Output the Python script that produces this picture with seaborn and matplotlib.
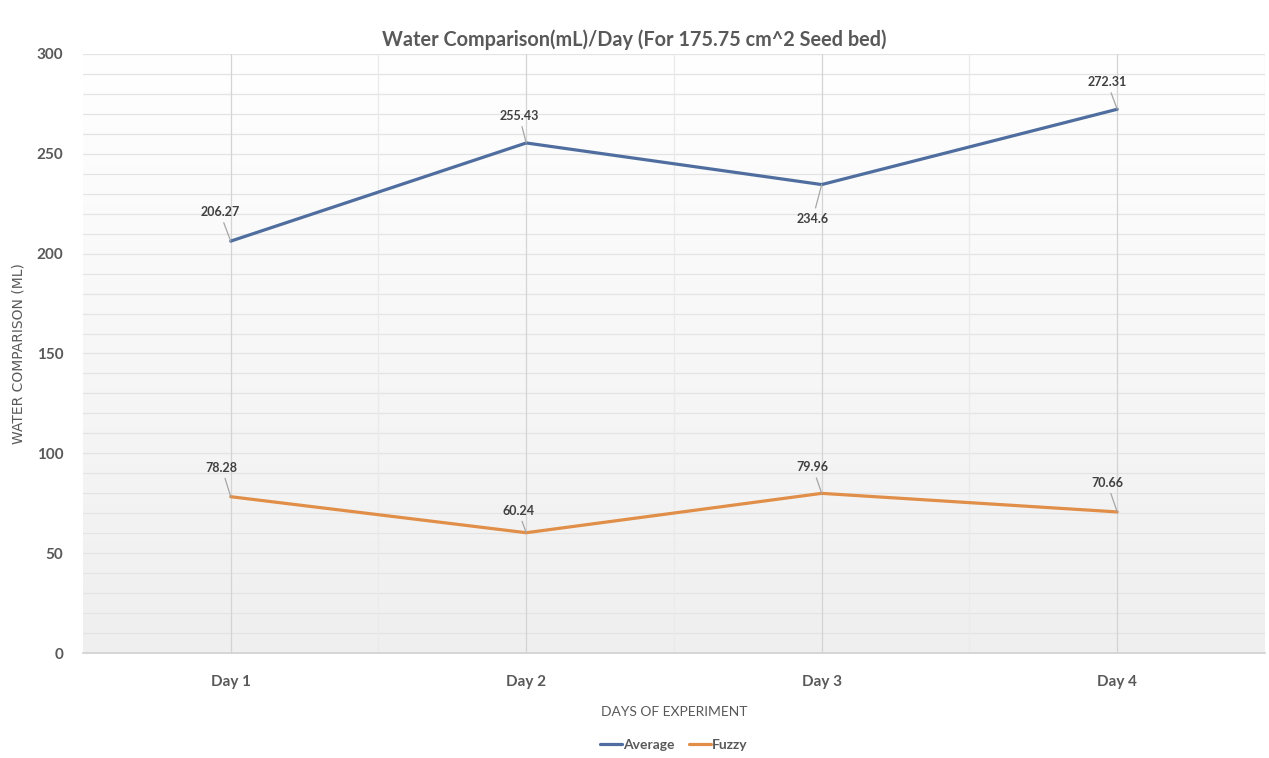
import numpy as np
import pandas as pd
import matplotlib
matplotlib.use("Agg")
import matplotlib.pyplot as plt
import seaborn as sns
from matplotlib.lines import Line2D

days = ["Day 1", "Day 2", "Day 3", "Day 4"]
average = [206.27, 255.43, 234.6, 272.31]
fuzzy = [78.28, 60.24, 79.96, 70.66]
series_names = ["Average", "Fuzzy"]
y_ticks = [0, 50, 100, 150, 200, 250, 300]

title = "Water Comparison(mL)/Day (For 175.75 cm^2 Seed bed)"
xlabel = "DAYS OF EXPERIMENT"
ylabel = "WATER COMPARISON (ML)"

df = pd.DataFrame({
    "Day": days * 2,
    "Value": average + fuzzy,
    "Series": [series_names[0]] * len(days) + [series_names[1]] * len(days),
})

sns.set_theme(style="white")
plt.rcParams['font.family'] = ['Lato', 'DejaVu Sans']

colors = {"Average": "#4F6E9F", "Fuzzy": "#E08E48"}

fig = plt.figure(figsize=(12.69, 7.58), dpi=100)
ax = fig.add_axes([0.0654, 0.1385, 0.9314, 0.7903])

# background gradient (light gray at bottom, white at top)
grad = np.linspace(0, 1, 256).reshape(-1, 1)
cmap = matplotlib.colors.LinearSegmentedColormap.from_list("bg", ["#EFEFEF", "#FFFFFF"])
ax.imshow(grad, extent=[-0.5, 3.5, 0, 300], aspect="auto", cmap=cmap, zorder=0,
          origin="lower")

sns.lineplot(data=df, x="Day", y="Value", hue="Series", palette=colors,
             linewidth=2.3, ax=ax, legend=False, zorder=3, sort=False)

ax.set_xlim(-0.5, 3.5)
ax.set_ylim(0, 300)
ax.set_yticks(y_ticks)
ax.set_xticks(range(len(days)))
ax.set_xticklabels(days)

ax.grid(False)
for yv in np.arange(10, 301, 10):
    ax.axhline(yv, color="#E4E4E4", linewidth=0.9, zorder=1)
for xv in range(len(days)):
    ax.axvline(xv, color="#D4D4D4", linewidth=0.9, zorder=1)
for xv in np.arange(0.5, 3.6, 1):
    ax.axvline(xv, color="#EAEAEA", linewidth=0.9, zorder=1)

for s in ["top", "right", "left"]:
    ax.spines[s].set_visible(False)
ax.spines["bottom"].set_color("#D0D0D0")
ax.spines["bottom"].set_linewidth(1.2)
ax.tick_params(axis="both", which="both", length=0)
ax.tick_params(axis="y", labelsize=11, labelcolor="#595959", pad=14)
ax.tick_params(axis="x", labelsize=11, labelcolor="#595959", pad=16)
for lbl in ax.get_xticklabels() + ax.get_yticklabels():
    lbl.set_fontweight("bold")

ax.set_xlabel(xlabel, fontsize=10, color="#595959", labelpad=12)
ax.set_ylabel(ylabel, fontsize=10, color="#595959",
              family=["DejaVu Sans"])
ax.yaxis.set_label_coords(-0.049, 0.5)

fig.text(0.5, 0.948, title, ha="center", va="center", fontsize=14.3,
         fontweight="bold", color="#595959")

# data labels with leader lines (label-centre offsets in pixels)
avg_offsets = [(-11, 29), (-7, 27), (-9, -34), (-10, 27)]
fuz_offsets = [(-9, 29), (-8, 22), (-9, 26), (-10, 29)]
for vals, offs in [(average, avg_offsets), (fuzzy, fuz_offsets)]:
    for i, (v, off) in enumerate(zip(vals, offs)):
        ax.annotate(f"{v:g}", xy=(i, v), xytext=off, textcoords="offset pixels",
                    ha="center", va="center",
                    fontsize=9, fontweight="bold", color="#404040",
                    arrowprops=dict(arrowstyle="-", color="#A6A6A6", lw=0.9,
                                    shrinkA=1, shrinkB=0), zorder=4)

handles = [Line2D([0], [0], color=colors[n], lw=2.3) for n in series_names]
fig.legend(handles, series_names, loc="center", bbox_to_anchor=(0.531, 0.017),
           ncol=2, frameon=False, prop={"size": 10, "weight": "bold"},
           handlelength=1.6, handletextpad=0.1, columnspacing=1.0,
           labelcolor="#595959")

fig.savefig("out.png", dpi=100)
